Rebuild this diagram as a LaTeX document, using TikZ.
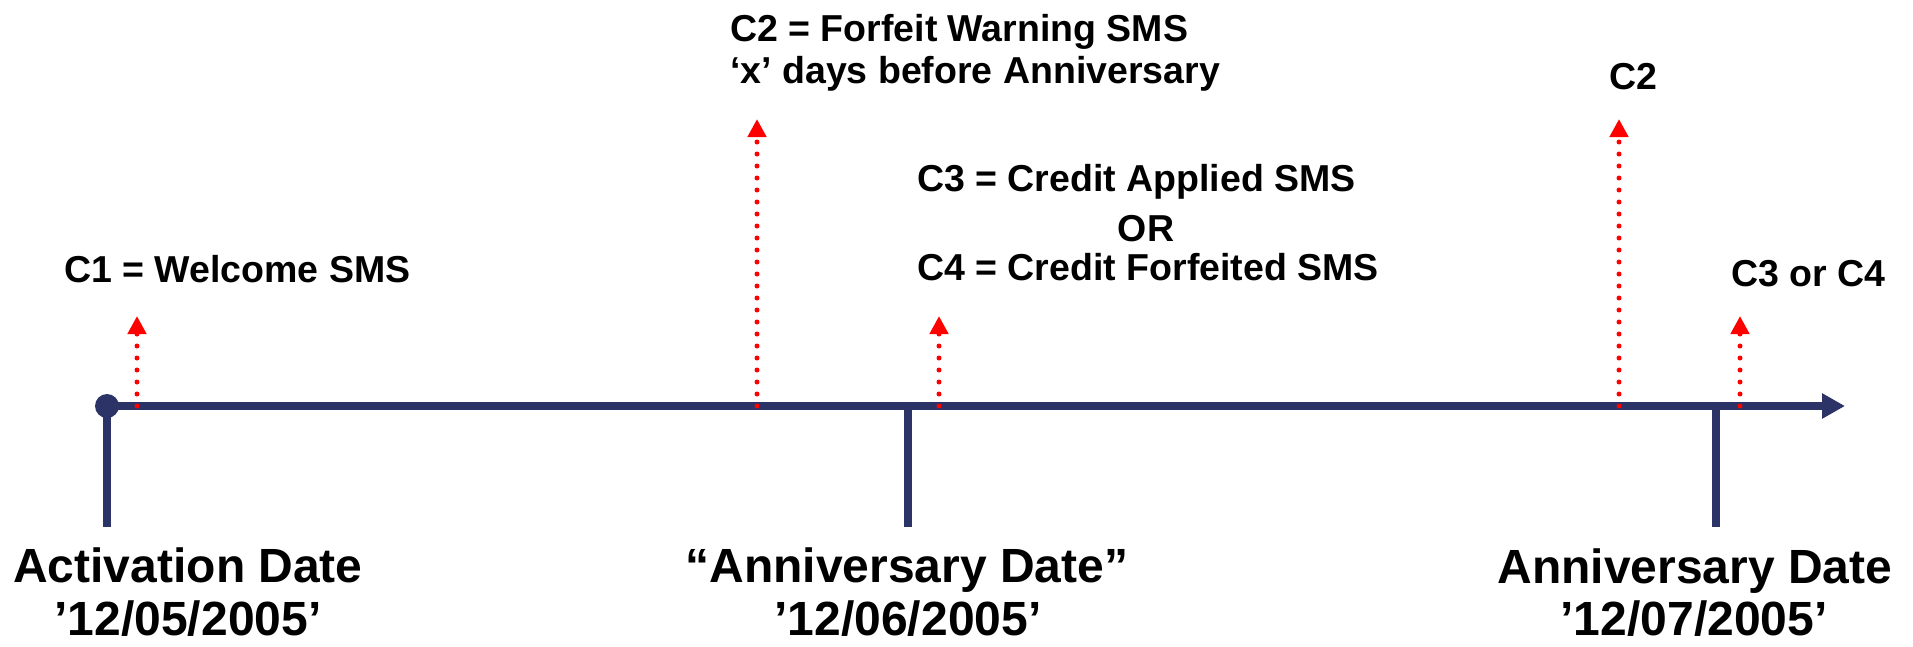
\documentclass[tikz,border=0pt]{standalone}
\usepackage{fontspec}
\setmainfont{Liberation Sans}
\usetikzlibrary{arrows.meta}
\definecolor{navy}{RGB}{44,51,102}
\tikzset{
  axisline/.style={draw=navy, line width=8pt},
  tickline/.style={draw=navy, line width=8pt},
  msgarrow/.style={draw=red, line width=5pt, line cap=round, dash pattern=on 0pt off 12pt, -{Triangle[length=18pt,width=18pt,fill=red]}},
  small/.style={font=\fontsize{37.5}{45}\selectfont\bfseries, inner sep=0pt, text=black},
  big/.style={font=\fontsize{48}{56}\selectfont\bfseries, inner sep=0pt, text=black, anchor=base},
  datetext/.style={big, text depth=0pt},
}
\begin{document}
\begin{tikzpicture}[x=1pt,y=1pt]
\useasboundingbox (0,0) rectangle (1913,-646);
% timeline
\node[circle, fill=navy, minimum size=24pt, inner sep=0pt] (start) at (107,-406) {};
\coordinate (end) at (1845,-406);
\draw[axisline, -{Triangle[length=23pt,width=24pt]}] (start.center) -- (end);
% ticks
\coordinate (t1a) at (107,-406); \coordinate (t1b) at (107,-527);
\coordinate (t2a) at (908,-406); \coordinate (t2b) at (908,-527);
\coordinate (t3a) at (1716,-406); \coordinate (t3b) at (1716,-527);
\draw[tickline] (t1a) -- (t1b);
\draw[tickline] (t2a) -- (t2b);
\draw[tickline] (t3a) -- (t3b);
% message arrows
\coordinate (a1) at (137,-406);  \coordinate (h1) at (137,-316);
\coordinate (a2) at (757,-406);  \coordinate (h2) at (757,-119);
\coordinate (a3) at (939,-406);  \coordinate (h3) at (939,-316);
\coordinate (a4) at (1619,-406); \coordinate (h4) at (1619,-119);
\coordinate (a5) at (1740,-406); \coordinate (h5) at (1740,-316);
\draw[msgarrow] (a1) -- (h1);
\draw[msgarrow] (a2) -- (h2);
\draw[msgarrow] (a3) -- (h3);
\draw[msgarrow] (a4) -- (h4);
\draw[msgarrow] (a5) -- (h5);
% small labels
\node[small, anchor=base west] (c1) at (64,-282) {C1 = Welcome SMS};
\node[small, anchor=base west] (c2a) at (730,-41) {C2 = Forfeit Warning SMS};
\node[small, anchor=base west] (c2b) at (730,-83) {‘x’ days before Anniversary};
\node[small, anchor=base west] (c3) at (917,-191) {C3 = Credit Applied SMS};
\node[small, anchor=base] (or) at (1146,-241) {OR};
\node[small, anchor=base west] (c4) at (917,-280) {C4 = Credit Forfeited SMS};
\node[small, anchor=base west] (c2r) at (1609,-89) {C2};
\node[small, anchor=base west] (c34) at (1731,-286) {C3 or C4};
% big labels
\node[big] (l1) at (188,-582) {Activation Date};
\node[datetext] (d1) at (188,-635) {’12/05/2005’};
\node[big] (l2) at (907,-582) {“Anniversary Date”};
\node[datetext] (d2) at (908,-635) {’12/06/2005’};
\node[big] (l3) at (1695,-583) {Anniversary Date};
\node[datetext] (d3) at (1694,-635) {’12/07/2005’};
\end{tikzpicture}
\end{document}
